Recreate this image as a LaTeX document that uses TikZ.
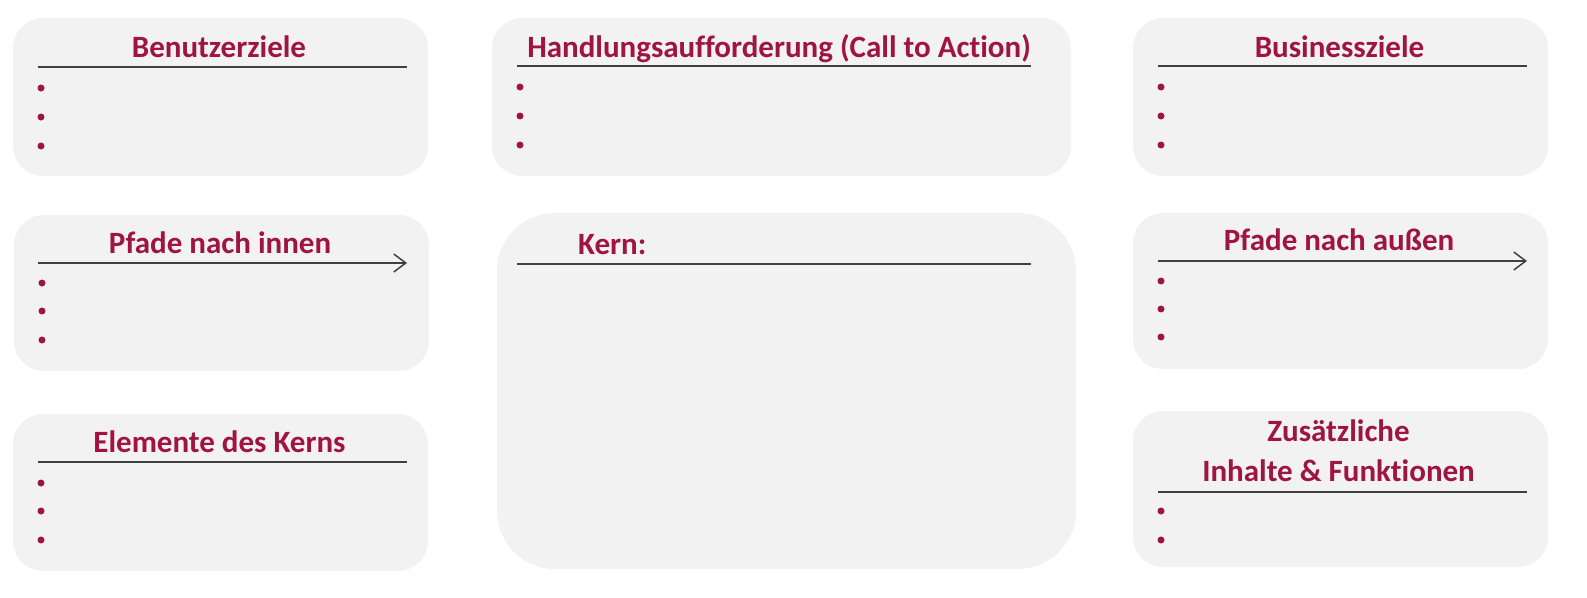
\documentclass[tikz,border=0pt]{standalone}
\usepackage{fontspec}
\setmainfont{Carlito}[Ligatures=NoCommon]
\usetikzlibrary{arrows.meta}

\definecolor{kachelgrau}{HTML}{F2F2F2}
\definecolor{weinrot}{HTML}{A01441}
\definecolor{strichgrau}{HTML}{404040}

\tikzset{
  kachel/.style={fill=kachelgrau, rounded corners=30pt},
  titel/.style={text=weinrot, font=\bfseries\fontsize{31}{37}\selectfont, anchor=base, inner sep=0pt},
  strich/.style={draw=strichgrau, line width=1.3pt},
  pfeil/.style={strich, -{Straight Barb[length=12pt,width=18pt,line width=1.5pt]}},
  punkt/.style={fill=weinrot}
}

\begin{document}
\begin{tikzpicture}[x=1pt, y=-1pt]
\useasboundingbox (0,0) rectangle (1587,597);

% Kacheln links
    \fill[kachel] (13,18) rectangle (428,176);
    \fill[kachel] (14,215) rectangle (429,371);
    \fill[kachel] (13,414) rectangle (428,571);

% Kacheln Mitte
    \fill[kachel] (492,18) rectangle (1071,176);
    \fill[kachel, rounded corners=58pt] (497,213) rectangle (1076,569);

% Kacheln rechts
    \fill[kachel] (1133,18) rectangle (1548,176);
    \fill[kachel] (1133,213) rectangle (1548,369);
    \fill[kachel] (1133,411) rectangle (1548,567);

% Ueberschriften
    \node[titel] (benutzer) at (219,57) {Benutzerziele};
    \node[titel] (innen) at (220,253) {Pfade nach innen};
    \node[titel] (elemente) at (219.5,452) {Elemente des Kerns};
    \node[titel] (cta) at (779,57) {Handlungsaufforderung (Call to Action)};
    \node[titel, anchor=base west] (kern) at (578,254) {Kern:};
    \node[titel] (business) at (1339.5,57) {Businessziele};
    \node[titel] (aussen) at (1339,250) {Pfade nach außen};
    \node[titel] (zusatz) at (1338.5,441) {Zusätzliche};
    \node[titel] (inhalte) at (1338.5,481) {Inhalte \& Funktionen};

% Trennlinien und Pfeile
    \draw[strich] (38,67) -- (407,67);
    \draw[pfeil] (38,263) -- (407,263);
    \draw[strich] (38,462) -- (407,462);
    \draw[strich] (517,66) -- (1031,66);
    \draw[strich] (517,264) -- (1031,264);
    \draw[strich] (1158,66) -- (1527,66);
    \draw[pfeil] (1158,261) -- (1527,261);
    \draw[strich] (1158,492) -- (1527,492);

% Aufzaehlungspunkte
    \foreach \y in {88,117,146} \fill[punkt] (41,\y) circle (3.5pt);
    \foreach \y in {283,311,340} \fill[punkt] (42,\y) circle (3.5pt);
    \foreach \y in {483,511,540} \fill[punkt] (41,\y) circle (3.5pt);
    \foreach \y in {87,116,145} \fill[punkt] (520,\y) circle (3.5pt);
    \foreach \y in {87,116,145} \fill[punkt] (1161,\y) circle (3.5pt);
    \foreach \y in {281,309,337} \fill[punkt] (1161,\y) circle (3.5pt);
    \foreach \y in {511,540} \fill[punkt] (1161,\y) circle (3.5pt);

\end{tikzpicture}
\end{document}
